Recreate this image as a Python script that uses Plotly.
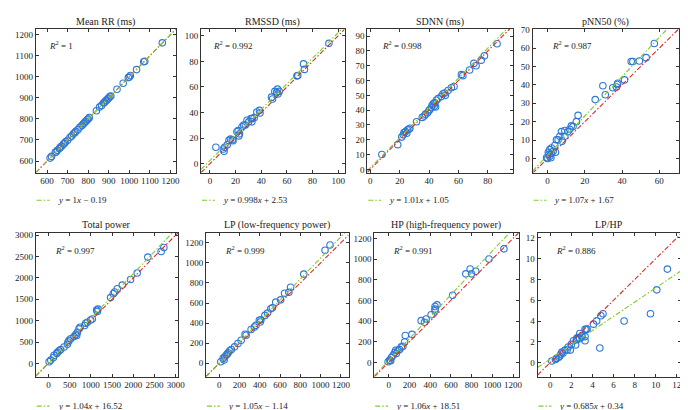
import plotly.graph_objects as go

# ---------------- data ----------------
titles = ["Mean RR (ms)", "RMSSD (ms)", "SDNN (ms)", "pNN50 (%)",
          "Total power", "LP (low-frequency power)", "HP (high-frequency power)", "LP/HP"]
r2_labels = ["1", "0.992", "0.998", "0.987", "0.997", "0.999", "0.991", "0.886"]
slopes = [1, 0.998, 1.01, 1.07, 1.04, 1.05, 1.06, 0.685]
intercepts = [-0.19, 2.53, 1.05, 1.67, 16.52, -1.14, 18.51, 0.34]

meanrr_x = [615, 622, 640, 645, 650, 660, 665, 672, 680, 685, 690, 700, 712, 720, 728, 735, 740, 750,
            760, 770, 775, 780, 785, 790, 795, 800, 805, 840, 855, 865, 875, 880, 885, 890, 895, 900,
            905, 910, 940, 970, 995, 1000, 1005, 1035, 1070, 1075, 1160]
meanrr_y = [614, 622, 641, 644, 651, 659, 666, 671, 681, 684, 691, 699, 713, 719, 729, 734, 741, 749,
            761, 769, 776, 779, 786, 789, 796, 799, 806, 839, 856, 864, 876, 879, 886, 889, 896, 899,
            906, 909, 941, 969, 996, 999, 1006, 1034, 1071, 1074, 1161]

rmssd_x = [4.6, 10.5, 11, 11.5, 13.5, 14.8, 16, 17.4, 18, 21, 22, 23, 22.5, 25, 26.3, 27.6, 28.9, 30.2,
           32, 33, 34.5, 32.7, 36.6, 38.6, 39, 48, 48.8, 50.6, 52, 52.7, 54, 53, 68.5, 67.8, 73, 73.7, 92.8]
rmssd_y = [12.8, 11.5, 9.7, 12.8, 14.8, 18.2, 19.2, 18.7, 18, 25, 25.8, 23.3, 21.7, 28.9, 30.2, 30.2, 34, 32.7,
           35.3, 35.3, 36, 32.7, 40.4, 41.7, 39.6, 52, 50.6, 56.5, 55.8, 58.3, 56.5, 54.5, 69, 68.5, 78, 73.7, 94.1]

sdnn_x = [7.9, 18.7, 21.4, 22.5, 23, 24, 25.4, 26.3, 27, 24.8, 31.5, 35.4, 36.7, 37.6, 39, 39.9, 40.5, 41.7,
          42.1, 43, 43.9, 43.5, 44.4, 45, 46.2, 48.4, 49.5, 50.7, 51.1, 52.9, 55.2, 57, 62, 63, 67.6, 70.5,
          72, 75.5, 77.7, 86.3]
sdnn_y = [10, 16.7, 21.8, 23.3, 24.9, 25.6, 26.7, 27.1, 27.8, 24.4, 32.2, 35.1, 36, 37.3, 38.2, 39.6, 40.4, 41.8,
          43.3, 44.4, 44.9, 42.7, 42.2, 46.7, 47.8, 49.3, 51.1, 51.6, 50, 53.3, 55.1, 56, 64, 63.3, 67.1, 71.6,
          70, 73.8, 76.7, 84.9]

pnn50_x = [57.3, 52.9, 49.3, 45.8, 44.9, 41.3, 37.7, 37.4, 37, 35, 31, 29.7, 25.6, 16.4, 15.5, 12.8, 13.7, 11.9,
           11, 9.3, 7.5, 6.6, 9.3, 4.8, 5.7, 7.8, 3.9, 2.1, 1.2, 3, 4.3, 0.4, 0.7, 1.2, 0, -0.5, 1.8, 2.1]
pnn50_y = [62.5, 54.8, 53, 52.7, 52.7, 42.7, 40.9, 40.2, 38.8, 38.4, 34.6, 39.5, 32, 23.4, 20, 17.7, 17.3, 15.9,
           14.6, 15.2, 14.6, 12, 12, 10.2, 10.2, 9.3, 7, 5.7, 4.8, 3.9, 3.4, 3.4, 2.1, 1.25, 0, 0.4, 0.4, 2.7]

total_x = [2720, 2657, 2343, 2092, 1936, 1740, 1622, 1560, 1528, 1465, 1168, 1152, 1136, 1034, 995, 917, 878,
           854, 745, 721, 682, 643, 666, 603, 525, 486, 462, 447, 368, 290, 250, 211, 196, 133, 118, 55, 16]
total_y = [2708, 2615, 2485, 2115, 1962, 1830, 1746, 1670, 1630, 1538, 1270, 1215, 1246, 1038, 1015, 962, 938,
           885, 846, 808, 730, 677, 654, 630, 577, 538, 500, 446, 385, 323, 292, 261, 230, 192, 138, 77, 38]

lp_x = [1093, 1044, 834, 704, 645, 687, 606, 558, 525, 509, 477, 451, 412, 396, 405, 363, 347, 315, 266, 256,
        217, 185, 152, 120, 104, 88, 81, 71, 55, 39, 16, 49]
lp_y = [1178, 1125, 888, 757, 697, 707, 632, 609, 553, 543, 500, 477, 434, 428, 411, 378, 362, 336, 280, 289,
        230, 197, 164, 138, 125, 105, 92, 82, 66, 49, 16, 33]

hp_x = [1112, 968, 840, 799, 786, 744, 617, 466, 447, 447, 447, 361, 345, 409, 313, 224, 160, 153, 137, 121,
        105, 89, 73, 58, 67, 42, 26, 10, 19, -6]
hp_y = [1099, 1000, 882, 857, 904, 857, 650, 557, 541, 516, 500, 420, 389, 462, 404, 271, 261, 197, 156, 150,
        124, 118, 86, 96, 118, 70, 48, 22, 16, 6]

lphp_x = [11.1, 10.1, 9.5, 7.0, 5.0, 4.8, 4.7, 4.4, 4.1, 3.4, 3.5, 3.3, 3.3, 3.3, 3.0, 2.8, 2.5, 2.4, 2.6, 2.2,
          2.0, 1.9, 1.7, 1.6, 1.4, 1.2, 1.1, 1.0, 0.9, 0.8, 0.6, 0.5, 0.15, 2.5, 2.8, 3.0]
lphp_y = [9.0, 7.0, 4.7, 4.0, 4.7, 4.5, 1.4, 4.0, 3.7, 3.2, 3.2, 3.2, 2.1, 2.5, 2.6, 2.3, 2.2, 1.7, 2.4, 2.1,
          1.75, 1.2, 1.5, 1.2, 1.2, 0.9, 1.0, 0.8, 0.6, 0.5, 0.4, 0.3, 0.15, 2.3, 2.8, 2.45]

series_x = [meanrr_x, rmssd_x, sdnn_x, pnn50_x, total_x, lp_x, hp_x, lphp_x]
series_y = [meanrr_y, rmssd_y, sdnn_y, pnn50_y, total_y, lp_y, hp_y, lphp_y]

# axis ranges and tick steps
x_ranges = [[545, 1228], [-7, 105], [-2, 97], [-8, 70.6], [-300, 3060], [-130, 1275], [-140, 1255], [-1.2, 12.4]]
y_ranges = [[545, 1228], [-7, 105.5], [-2.2, 95], [-7.7, 70.5], [-308, 3055], [-132, 1300], [-137, 1255], [-1.35, 12.5]]
x_dticks = [100, 20, 20, 20, 500, 200, 200, 2]
y_dticks = [100, 20, 10, 10, 500, 200, 200, 2]

# ---------------- layout geometry (pixels) ----------------
W, H = 688, 410
box_x = [(28, 170), (195, 340), (363, 510), (530, 678),
         (28, 172), (200, 344), (370, 516), (535, 680)]
row_y = [(17, 163), (224, 370)]
r2_off = [11, 10, 13, 18, 17, 17, 17, 17]
title_y = [10, 216]
legend_y = [191, 400]
r2_y = [33, 242]

FONT = "Liberation Serif"
TXT = "#222222"
BLUE = "rgb(45,120,215)"
GREEN = "rgb(125,205,45)"
RED = "rgb(215,45,45)"
DASH = "5px,2px,1.5px,2px"

fig = go.Figure()
annotations = []
shapes = []

for i in range(8):
    row = 0 if i < 4 else 1
    n = "" if i == 0 else str(i + 1)
    xa, ya = "x" + n, "y" + n
    x0, x1 = box_x[i]
    top, bot = row_y[row]

    fig.add_trace(go.Scatter(x=series_x[i], y=series_y[i], mode="markers", xaxis=xa, yaxis=ya,
                             marker=dict(symbol="circle-open", size=6.5, color=BLUE, line=dict(width=1.1)),
                             showlegend=False, hoverinfo="skip", cliponaxis=True))
    xr = x_ranges[i]
    fig.add_trace(go.Scatter(x=xr, y=xr, mode="lines", xaxis=xa, yaxis=ya,
                             line=dict(color=RED, width=1.1, dash=DASH), showlegend=False, hoverinfo="skip"))
    fig.add_trace(go.Scatter(x=xr, y=[slopes[i] * v + intercepts[i] for v in xr], mode="lines",
                             xaxis=xa, yaxis=ya, line=dict(color=GREEN, width=1.1, dash=DASH),
                             showlegend=False, hoverinfo="skip"))

    axis_common = dict(showline=True, linecolor="#333333", linewidth=1, mirror="ticks",
                       ticks="inside", ticklen=3, tickcolor="#333333", showgrid=False, zeroline=False,
                       tickangle=0, tickfont=dict(family=FONT, size=9, color=TXT), fixedrange=True)
    fig.layout["xaxis" + n] = dict(domain=[x0 / W, x1 / W], anchor=ya, range=x_ranges[i],
                                   dtick=x_dticks[i], tick0=0, **axis_common)
    fig.layout["yaxis" + n] = dict(domain=[1 - bot / H, 1 - top / H], anchor=xa, range=y_ranges[i],
                                   dtick=y_dticks[i], tick0=0, **axis_common)

    annotations.append(dict(xref="paper", yref="paper", x=(x0 + x1) / 2 / W, y=1 - title_y[row] / H,
                            text=titles[i], showarrow=False, xanchor="center", yanchor="middle",
                            font=dict(family=FONT, size=10, color=TXT)))
    annotations.append(dict(xref="paper", yref="paper", x=(x0 + r2_off[i]) / W, y=1 - r2_y[row] / H,
                            text="<i>R</i><sup>2</sup> = " + r2_labels[i], showarrow=False,
                            xanchor="left", yanchor="middle", font=dict(family=FONT, size=9, color=TXT)))
    b = intercepts[i]
    sign = "+" if b >= 0 else "\u2212"
    eq = "<i>y</i> = " + str(slopes[i]) + "<i>x</i> " + sign + " " + f"{abs(b):.2f}"
    annotations.append(dict(xref="paper", yref="paper", x=(x0 + 20) / W, y=1 - legend_y[row] / H,
                            text=eq, showarrow=False, xanchor="left", yanchor="middle",
                            font=dict(family=FONT, size=9, color=TXT)))
    shapes.append(dict(type="line", xref="paper", yref="paper", x0=(x0 + 1) / W, x1=(x0 + 14) / W,
                       y0=1 - legend_y[row] / H, y1=1 - legend_y[row] / H,
                       line=dict(color=GREEN, width=1.1, dash=DASH)))

fig.update_layout(width=W, height=H, margin=dict(l=0, r=0, t=0, b=0),
                  paper_bgcolor="white", plot_bgcolor="white",
                  annotations=annotations, shapes=shapes, showlegend=False)

fig.write_html("out.html", config={"displayModeBar": False})
